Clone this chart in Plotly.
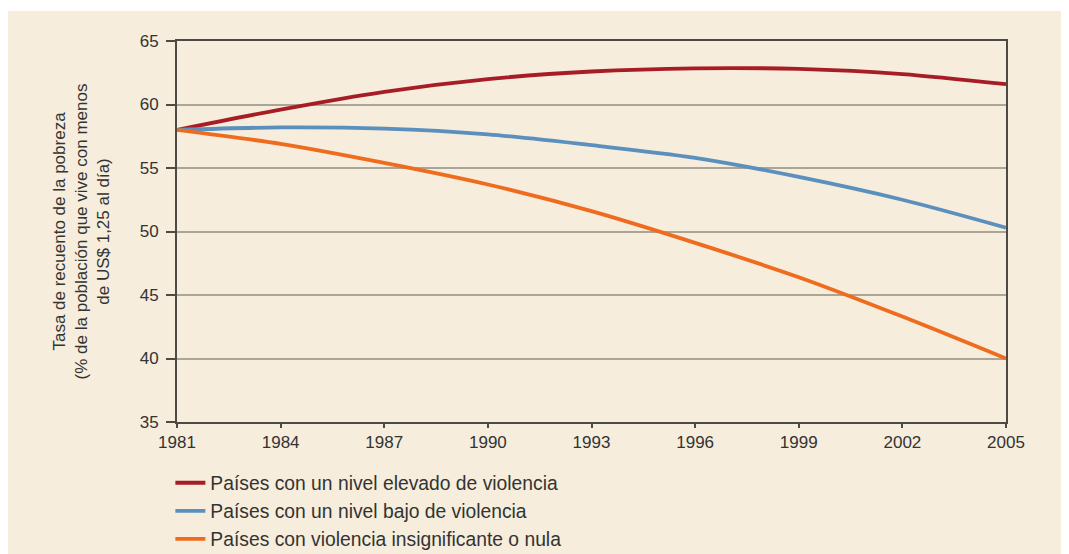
import plotly.graph_objects as go

years = [1981, 1984, 1987, 1990, 1993, 1996, 1999, 2002, 2005]
alta_violencia = [58.0, 59.6, 61.0, 62.0, 62.6, 62.85, 62.8, 62.4, 61.6]
baja_violencia = [58.0, 58.2, 58.1, 57.65, 56.8, 55.8, 54.3, 52.5, 50.3]
nula_violencia = [58.0, 56.9, 55.4, 53.7, 51.6, 49.1, 46.4, 43.3, 40.0]

names = [
    "Países con un nivel elevado de violencia",
    "Países con un nivel bajo de violencia",
    "Países con violencia insignificante o nula",
]
colors = ["#A71D26", "#5B8FBD", "#EF6B1E"]
series = [alta_violencia, baja_violencia, nula_violencia]

# the page adds an ~8px body margin; keep the figure inside the window
W, H = 1061, 546
L, R, T, B = 169, 63, 33, 132
BG = "#F6EDDC"
FONT = "Liberation Sans, Arial, sans-serif"

fig = go.Figure()
for i, (name, col, vals) in enumerate(zip(names, colors, series)):
    fig.add_trace(go.Scatter(
        x=years, y=vals, name=name, mode="lines", legendgroup=f"g{i}",
        line=dict(color=col, width=3.8, shape="spline", smoothing=0.8),
    ))

pw = W - L - R
ph = H - T - B
fig.add_shape(type="rect", xref="paper", yref="paper", layer="below",
              x0=(-1 - L) / pw, x1=(W - L) / pw,
              y0=-B / ph, y1=(T - 3) / ph + 1,
              fillcolor=BG, line_width=0)

fig.update_layout(
    width=W, height=H,
    margin=dict(l=L, r=R, t=T, b=B, autoexpand=False),
    paper_bgcolor="white",
    plot_bgcolor="rgba(0,0,0,0)",
    font=dict(family=FONT, size=18, color="#333333"),
    showlegend=True,
    legend=dict(
        x=-0.008, y=0.1654, xref="paper", yref="container",
        xanchor="left", yanchor="top",
        orientation="v", bgcolor="rgba(0,0,0,0)",
        font=dict(size=19.3, color="#333333"),
        itemwidth=30, tracegroupgap=0,
    ),
    xaxis=dict(
        range=[1981, 2005], tickvals=years, ticktext=[str(y) for y in years],
        showgrid=False, zeroline=False,
        showline=True, linecolor="#4d4a45", linewidth=2, mirror=True,
        ticks="outside", ticklen=4, tickwidth=1.5, tickcolor="#4d4a45",
        tickfont=dict(size=17, color="#333333"),
    ),
    yaxis=dict(
        range=[35, 65], tickvals=[35, 40, 45, 50, 55, 60, 65],
        showgrid=True, gridcolor="#aaa596", gridwidth=1.5, zeroline=False,
        showline=True, linecolor="#4d4a45", linewidth=2, mirror=True,
        ticks="outside", ticklen=9, tickwidth=1.5, tickcolor="#4d4a45",
        ticklabelstandoff=4,
        tickfont=dict(size=17, color="#333333"),
        title=dict(
            text="Tasa de recuento de la pobreza<br>(% de la población que vive con menos<br>de US$ 1,25 al día)",
            font=dict(size=17, color="#333333"), standoff=26,
        ),
    ),
)

fig.write_html("out.html")
